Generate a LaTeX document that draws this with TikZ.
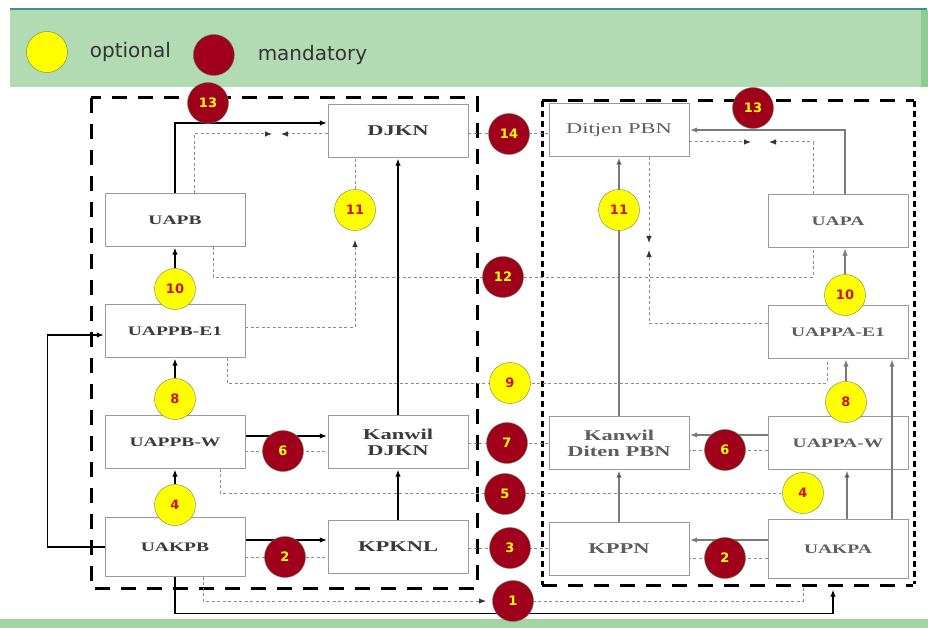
\documentclass[tikz,border=0pt]{standalone}
\usepackage{fontspec}
\usepackage{tikz}
\usetikzlibrary{arrows.meta,positioning}
\newfontfamily\boxfont[FakeStretch=1.5]{Liberation Serif}
\newfontfamily\numfont{DejaVu Sans}
\pgfdeclarelayer{bg}
\pgfdeclarelayer{back}
\pgfsetlayers{bg,back,main}
\definecolor{bandgreen}{HTML}{B2DBB3}
\definecolor{edgegreen}{HTML}{8DCB93}
\definecolor{lowgreen}{HTML}{A3D4A4}
\definecolor{topline}{HTML}{3E8E9E}
\definecolor{mandred}{HTML}{A0001C}
\definecolor{optyellow}{HTML}{FFFF00}
\definecolor{rimgreen}{HTML}{5E8A4A}
\definecolor{boxgray}{HTML}{9A9A9A}
\definecolor{txtdark}{HTML}{3A3A3A}
\definecolor{txtlight}{HTML}{5E5E5E}
\definecolor{numred}{HTML}{D01010}
\definecolor{keytext}{HTML}{333333}
\definecolor{lgray}{HTML}{7A7A7A}
\definecolor{dgray}{HTML}{8C8C8C}

\begin{document}
\begin{tikzpicture}[x=1pt,y=-1pt,>={Latex[length=7pt,width=5.5pt]},shorten >=1pt,
                    node distance=223pt,semithick]
  \tikzstyle{unit}=[rectangle,draw=boxgray,fill=white,thin,minimum width=140pt,minimum height=53pt,inner sep=0pt,text=txtdark,font=\boxfont\bfseries\fontsize{13}{14}\selectfont]
  \tikzstyle{office}=[unit,align=center,font=\boxfont\bfseries\fontsize{15}{16}\selectfont]
  \tikzstyle{runit}=[unit,text=txtlight]
  \tikzstyle{roffice}=[office,text=txtlight]
  \tikzstyle{opt}=[circle,draw=rimgreen,fill=optyellow,thin,minimum size=41pt,inner sep=0pt,text=numred,font=\numfont\bfseries\fontsize{13}{14}\selectfont]
  \tikzstyle{mand}=[opt,fill=mandred,text=optyellow]
  \tikzstyle{legendtext}=[text=keytext,font=\numfont\fontsize{20}{22}\selectfont,inner sep=0pt]
  \tikzstyle{bline}=[draw=black,line width=1.3pt]
  \tikzstyle{gline}=[draw=lgray,line width=1.1pt]
  \tikzstyle{dline}=[draw=dgray,line width=1pt,dash pattern=on 3pt off 2.5pt]
  \tikzstyle{darrow}=[dline,-{Latex[length=7pt,width=5.5pt,color=black!80]}]
  \tikzstyle{boxframe}=[draw=black,line width=3pt,dash pattern=on 15pt off 11pt]

  \useasboundingbox (0,0) rectangle (928,628);
  \begin{pgfonlayer}{bg}
    \fill[bandgreen] (10,10) rectangle (928,87);
    \fill[edgegreen] (921,10) rectangle (928,87);
    \draw[topline,line width=1.5pt] (10,9) -- (928,9);
    \fill[lowgreen] (0,619) rectangle (928,628);
  \end{pgfonlayer}

  \node[opt] (keyopt) at (47,52) {};
  \node[legendtext] (keyopttext) [right=22pt of keyopt] {optional};
  \node[mand,yshift=-3pt] (keymand) [right=22pt of keyopttext] {};
  \node[legendtext] (keymandtext) [right=23pt of keymand] {mandatory};

  \node[office] (DJKN) at (398,131) {DJKN};
  \node[unit] (UAPB) at (175,220) {UAPB};
  \node[unit] (UAPPBE) at (175,331) {UAPPB-E1};
  \node[unit] (UAPPBW) at (175,442) {UAPPB-W};
  \node[office] (KDJKN) [right of=UAPPBW] {Kanwil\\DJKN};
  \node[unit,minimum height=59pt] (UAKPB) at (175,547) {UAKPB};
  \node[office] (KPKNL) [right of=UAKPB] {KPKNL};

  \node[roffice,font=\boxfont\fontsize{15}{16}\selectfont] (DPBN) at (619,130) {Ditjen PBN};
  \node[runit] (UAPA) at (838,221) {UAPA};
  \node[runit] (UAPPAE) at (838,332) {UAPPA-E1};
  \node[runit] (UAPPAW) at (838,443) {UAPPA-W};
  \node[roffice] (KPBN) [left of=UAPPAW,node distance=219pt] {Kanwil\\Diten PBN};
  \node[runit,minimum height=59pt] (UAKPA) at (838,549) {UAKPA};
  \node[roffice] (KPPN) [left of=UAKPA,node distance=219pt] {KPPN};

  \node[mand] (c13l) at (208,103) {13};
  \node[mand] (c13r) at (753,108) {13};
  \node[mand] (c14) at (509,134) {14};
  \node[opt] (c11l) at (355,210) {11};
  \node[opt] (c11r) at (619,210) {11};
  \node[mand] (c12) at (503,277) {12};
  \node[opt] (c10l) at (175,289) {10};
  \node[opt] (c10r) at (845,295) {10};
  \node[opt] (c9) at (510,383) {9};
  \node[opt] (c8l) at (175,399) {8};
  \node[opt] (c8r) at (846,402) {8};
  \node[mand] (c7) at (507,443) {7};
  \node[mand] (c6l) at (283,451) {6};
  \node[mand] (c6r) at (725,450) {6};
  \node[mand] (c5) at (505,494) {5};
  \node[opt] (c4l) at (175,505) {4};
  \node[opt] (c4r) at (803,493) {4};
  \node[mand] (c3) at (510,548) {3};
  \node[mand] (c2l) at (285,557) {2};
  \node[mand] (c2r) at (725,558) {2};
  \node[mand] (c1) at (513,601) {1};

  \coordinate (m13l) at (273,134);
  \coordinate (n13l) at (280,134);
  \coordinate (m13r) at (752,142);
  \coordinate (n13r) at (768,142);
  \coordinate (m11l) at (355,239);
  \coordinate (m11r) at (649,244);
  \coordinate (n11r) at (649,249);
  \coordinate (m1) at (487,601);

  \begin{pgfonlayer}{back}
    \draw[boxframe] (91,98) rectangle (477,588);
    \draw[boxframe] (542,101) -- (914,101) (542,585) -- (914,585);
    \draw[boxframe,dash pattern=on 6pt off 4pt] (542,101) -- (542,585) (914,101) -- (914,585);

    % left office
    \draw[bline,->] (UAPB.north) |- ([yshift=8pt]DJKN.west);
    \draw[darrow] ([xshift=19pt]UAPB.north) |- (m13l);
    \draw[darrow] ([yshift=-3pt]DJKN.west) -- (n13l);
    \draw[dline] (c11l.north) -- (c11l.north |- DJKN.south);
    \draw[darrow] ([yshift=4pt]UAPPBE.east) -| (m11l);
    \draw[dline] ([xshift=38pt]UAPB.south) |- (c12.center) -| ([xshift=-25pt]UAPA.south);
    \draw[dline] ([xshift=52pt]UAPPBE.south) |- (c9.center) -| ([xshift=-11pt]UAPPAE.south);
    \draw[dline] ([xshift=45pt]UAPPBW.south) |- (c4r.west);
    \draw[bline,->] (UAKPB.west) -- ++(-57,0) |- ([yshift=-4pt]UAPPBE.west);
    \draw[bline,->] (UAKPB.south) -- ++(0,37) -| ([xshift=-5pt,yshift=-10pt]UAKPA.south);
    \draw[darrow] ([xshift=28pt]UAKPB.south) |- (m1);
    \draw[dline] ([xshift=-35pt,yshift=-9pt]UAKPA.south) |- (c1.center);
    \draw[bline,->] ([yshift=6pt]UAPPBW.east) -- ([yshift=6pt]KDJKN.west);
    \draw[bline,->] ([yshift=7pt]UAKPB.east) -- ([yshift=7pt]KPKNL.west);
    \path[bline,->]
      (c10l) edge (UAPB)
      (c8l) edge (UAPPBE)
      (c4l) edge (UAPPBW)
      (KDJKN) edge (DJKN)
      (KPKNL) edge (KDJKN);
    \path[dline]
      (c6l -| UAPPBW.east) edge (c6l -| KDJKN.west)
      (c2l -| UAKPB.east) edge (c2l -| KPKNL.west)
      (c14 -| DJKN.east) edge (c14 -| DPBN.west)
      (c7 -| KDJKN.east) edge (c7 -| KPBN.west)
      (c3 -| KPKNL.east) edge (c3 -| KPPN.west);

    % right office
    \draw[gline,->] ([xshift=7pt]UAPA.north) |- (DPBN.east);
    \draw[darrow] ([yshift=-12pt]DPBN.east) -- (m13r);
    \draw[darrow] ([xshift=-25pt]UAPA.north) |- (n13r);
    \draw[darrow] ([xshift=30pt]DPBN.south) -- (m11r);
    \draw[darrow] ([yshift=9pt]UAPPAE.west) -| (n11r);
    \draw[gline,->] (c10r.north) -- (c10r.north |- UAPA.south);
    \draw[gline,->] (c8r.north) -- (c8r.north |- UAPPAE.south);
    \draw[gline,->] ([yshift=8pt]UAPPAW.west) -- ([yshift=8pt]KPBN.east);
    \draw[gline,->] ([yshift=9pt]UAKPA.west) -- ([yshift=9pt]KPPN.east);
    \path[gline,->]
      (KPBN) edge (DPBN)
      (KPPN) edge (KPBN)
      ([xshift=9pt]UAKPA.north) edge ([xshift=9pt]UAPPAW.south);
    \path[dline]
      (c6r -| UAPPAW.west) edge (c6r -| KPBN.east)
      (c2r -| UAKPA.west) edge (c2r -| KPPN.east);
  \end{pgfonlayer}
  \draw[gline,->] ([xshift=54pt]UAKPA.north) -- ([xshift=54pt]UAPPAE.south);
\end{tikzpicture}
\end{document}
